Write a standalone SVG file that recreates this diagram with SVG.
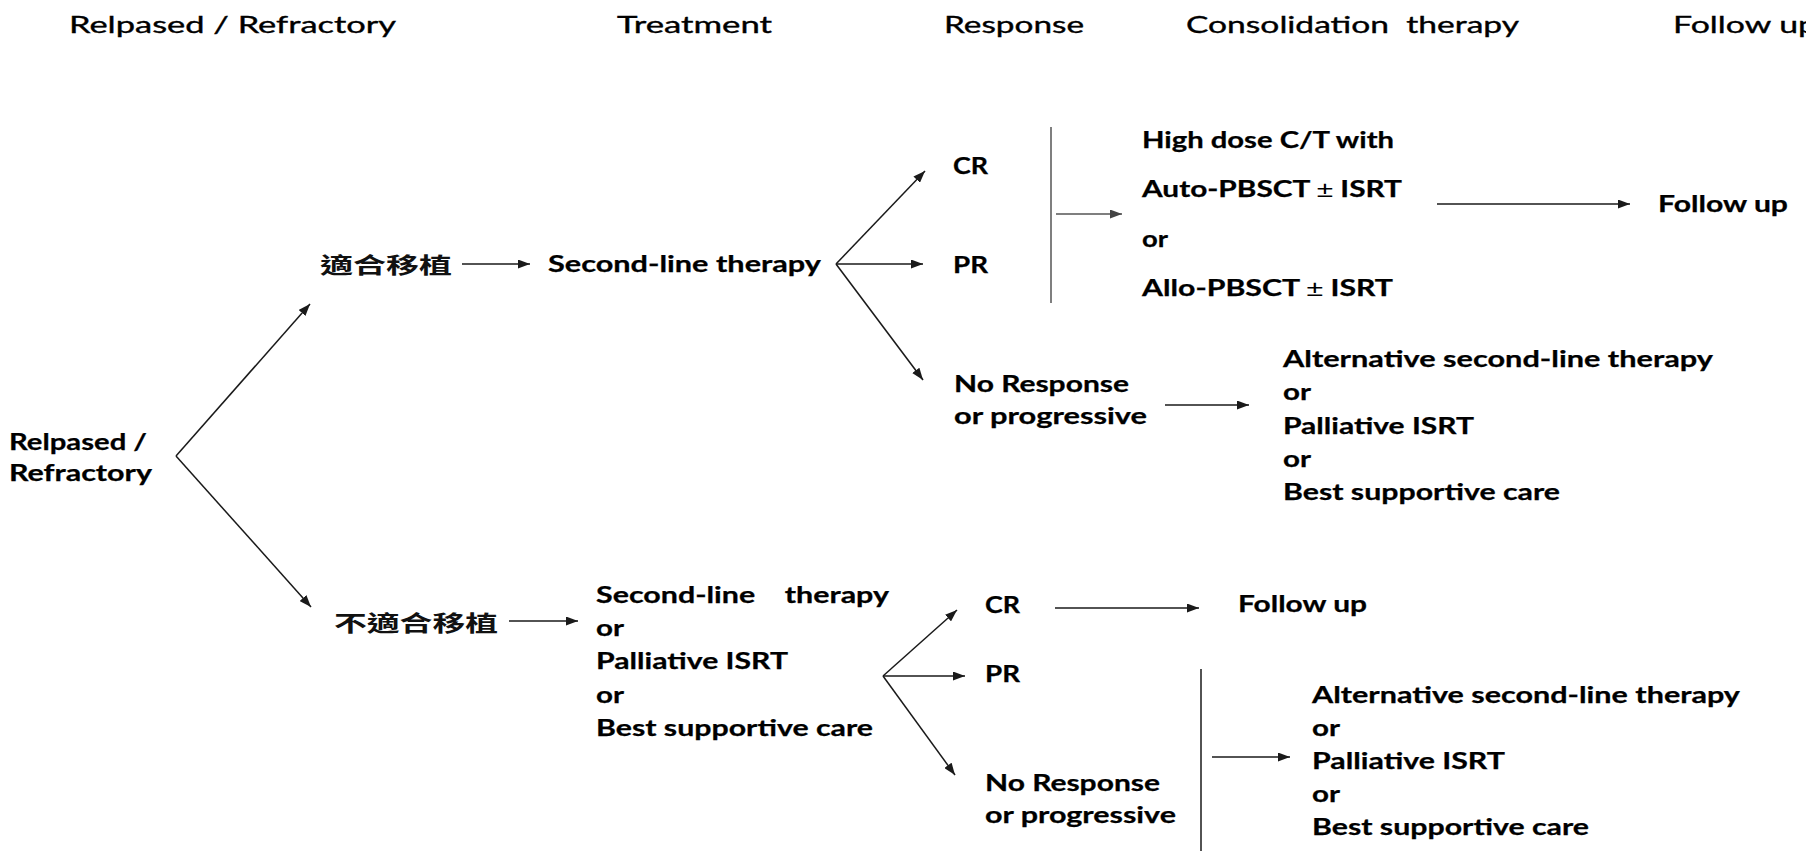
<svg xmlns="http://www.w3.org/2000/svg" width="1816" height="851" viewBox="0 0 1816 851">
<style>
.h{font-family:Lato,"Liberation Sans",sans-serif;font-size:23px;font-weight:400;fill:#000;stroke:#000;stroke-width:0.35}
.t{font-family:Lato,"Liberation Sans",sans-serif;font-size:22px;font-weight:700;fill:#000;stroke:#000;stroke-width:0.25}
.cjk{font-family:"Noto Sans CJK TC","Noto Sans CJK SC",sans-serif;font-size:22px;font-weight:700;fill:#111}
.pm{font-family:"Liberation Sans",sans-serif;font-weight:400;stroke-width:0}
.c line{stroke:#1a1a1a;stroke-width:1.5;fill:none}
.c line.g{stroke:#555}
</style>
<defs>
<marker id="ah" viewBox="0 0 12 9" refX="12" refY="4.5" markerWidth="12" markerHeight="9" markerUnits="userSpaceOnUse" orient="auto"><path d="M0,0 L12,4.5 L0,9 z" fill="#1a1a1a"/></marker>
<marker id="ahg" viewBox="0 0 12 9" refX="12" refY="4.5" markerWidth="12" markerHeight="9" markerUnits="userSpaceOnUse" orient="auto"><path d="M0,0 L12,4.5 L0,9 z" fill="#444"/></marker>
<clipPath id="clipR"><rect x="0" y="0" width="1806" height="851"/></clipPath>
</defs>
<rect width="1816" height="851" fill="#fff"/>

<g id="header">
<text class="h" x="69" y="33" textLength="327" lengthAdjust="spacingAndGlyphs">Relpased / Refractory</text>
<text class="h" x="617" y="33" textLength="155" lengthAdjust="spacingAndGlyphs">Treatment</text>
<text class="h" x="944" y="33" textLength="140" lengthAdjust="spacingAndGlyphs">Response</text>
<text class="h" x="1186" y="33" textLength="333" lengthAdjust="spacingAndGlyphs" xml:space="preserve">Consolidation  therapy</text>
<g clip-path="url(#clipR)"><text class="h" x="1673" y="33" textLength="144" lengthAdjust="spacingAndGlyphs">Follow up</text></g>
</g>

<g id="n-root">
<text class="t" x="9" y="450" textLength="138" lengthAdjust="spacingAndGlyphs">Relpased /</text>
<text class="t" x="9" y="481" textLength="143" lengthAdjust="spacingAndGlyphs">Refractory</text>
</g>

<g id="n-fit"><text class="cjk" x="320" y="273" textLength="132" lengthAdjust="spacingAndGlyphs">適合移植</text></g>
<g id="n-second-top"><text class="t" x="548" y="272" textLength="273" lengthAdjust="spacingAndGlyphs">Second-line therapy</text></g>
<g id="n-cr-top"><text class="t" x="953" y="174" textLength="35" lengthAdjust="spacingAndGlyphs">CR</text></g>
<g id="n-pr-top"><text class="t" x="953" y="273" textLength="35" lengthAdjust="spacingAndGlyphs">PR</text></g>
<g id="n-consol">
<text class="t" x="1142" y="148" textLength="252" lengthAdjust="spacingAndGlyphs">High dose C/T with</text>
<text class="t" x="1142" y="197" textLength="260" lengthAdjust="spacingAndGlyphs">Auto-PBSCT <tspan class="pm">±</tspan> ISRT</text>
<text class="t" x="1142" y="247" textLength="26" lengthAdjust="spacingAndGlyphs">or</text>
<text class="t" x="1142" y="296" textLength="251" lengthAdjust="spacingAndGlyphs">Allo-PBSCT <tspan class="pm">±</tspan> ISRT</text>
</g>
<g id="n-follow-top"><text class="t" x="1658" y="212" textLength="130" lengthAdjust="spacingAndGlyphs">Follow up</text></g>
<g id="n-nr-top">
<text class="t" x="954" y="392" textLength="175" lengthAdjust="spacingAndGlyphs">No Response</text>
<text class="t" x="954" y="424" textLength="193" lengthAdjust="spacingAndGlyphs">or progressive</text>
</g>
<g id="n-alt-top">
<text class="t" x="1283" y="367" textLength="430" lengthAdjust="spacingAndGlyphs">Alternative second-line therapy</text>
<text class="t" x="1283" y="400" textLength="28" lengthAdjust="spacingAndGlyphs">or</text>
<text class="t" x="1283" y="434" textLength="191" lengthAdjust="spacingAndGlyphs">Palliative ISRT</text>
<text class="t" x="1283" y="467" textLength="28" lengthAdjust="spacingAndGlyphs">or</text>
<text class="t" x="1283" y="500" textLength="277" lengthAdjust="spacingAndGlyphs">Best supportive care</text>
</g>

<g id="n-unfit"><text class="cjk" x="334" y="631" textLength="164" lengthAdjust="spacingAndGlyphs">不適合移植</text></g>
<g id="n-second-bottom">
<text class="t" x="596" y="603" textLength="293" lengthAdjust="spacingAndGlyphs" xml:space="preserve">Second-line    therapy</text>
<text class="t" x="596" y="636" textLength="28" lengthAdjust="spacingAndGlyphs">or</text>
<text class="t" x="596" y="669" textLength="192" lengthAdjust="spacingAndGlyphs">Palliative ISRT</text>
<text class="t" x="596" y="703" textLength="28" lengthAdjust="spacingAndGlyphs">or</text>
<text class="t" x="596" y="736" textLength="277" lengthAdjust="spacingAndGlyphs">Best supportive care</text>
</g>
<g id="n-cr-bottom"><text class="t" x="985" y="613" textLength="35" lengthAdjust="spacingAndGlyphs">CR</text></g>
<g id="n-follow-bottom"><text class="t" x="1238" y="612" textLength="129" lengthAdjust="spacingAndGlyphs">Follow up</text></g>
<g id="n-pr-bottom"><text class="t" x="985" y="682" textLength="35" lengthAdjust="spacingAndGlyphs">PR</text></g>
<g id="n-nr-bottom">
<text class="t" x="985" y="791" textLength="175" lengthAdjust="spacingAndGlyphs">No Response</text>
<text class="t" x="985" y="823" textLength="191" lengthAdjust="spacingAndGlyphs">or progressive</text>
</g>
<g id="n-alt-bottom">
<text class="t" x="1312" y="703" textLength="428" lengthAdjust="spacingAndGlyphs">Alternative second-line therapy</text>
<text class="t" x="1312" y="736" textLength="28" lengthAdjust="spacingAndGlyphs">or</text>
<text class="t" x="1312" y="769" textLength="193" lengthAdjust="spacingAndGlyphs">Palliative ISRT</text>
<text class="t" x="1312" y="802" textLength="28" lengthAdjust="spacingAndGlyphs">or</text>
<text class="t" x="1312" y="835" textLength="277" lengthAdjust="spacingAndGlyphs">Best supportive care</text>
</g>

<g id="connectors" class="c">
<line x1="176" y1="456" x2="310" y2="304" marker-end="url(#ah)"/>
<line x1="176" y1="456" x2="311" y2="607" marker-end="url(#ah)"/>
<line x1="462" y1="264" x2="530" y2="264" marker-end="url(#ah)"/>
<line x1="836" y1="264" x2="925" y2="171" marker-end="url(#ah)"/>
<line x1="836" y1="264" x2="923" y2="264" marker-end="url(#ah)"/>
<line x1="836" y1="264" x2="923" y2="380" marker-end="url(#ah)"/>
<line class="g" x1="1051" y1="127" x2="1051" y2="303"/>
<line class="g" x1="1056" y1="214" x2="1122" y2="214" marker-end="url(#ahg)"/>
<line x1="1437" y1="204" x2="1630" y2="204" marker-end="url(#ah)"/>
<line x1="1165" y1="405" x2="1249" y2="405" marker-end="url(#ah)"/>
<line x1="509" y1="621" x2="578" y2="621" marker-end="url(#ah)"/>
<line x1="883" y1="676" x2="957" y2="610" marker-end="url(#ah)"/>
<line x1="883" y1="676" x2="965" y2="676" marker-end="url(#ah)"/>
<line x1="883" y1="676" x2="955" y2="775" marker-end="url(#ah)"/>
<line x1="1055" y1="608" x2="1199" y2="608" marker-end="url(#ah)"/>
<line x1="1201" y1="669" x2="1201" y2="851"/>
<line x1="1212" y1="757" x2="1290" y2="757" marker-end="url(#ah)"/>
</g>
</svg>
